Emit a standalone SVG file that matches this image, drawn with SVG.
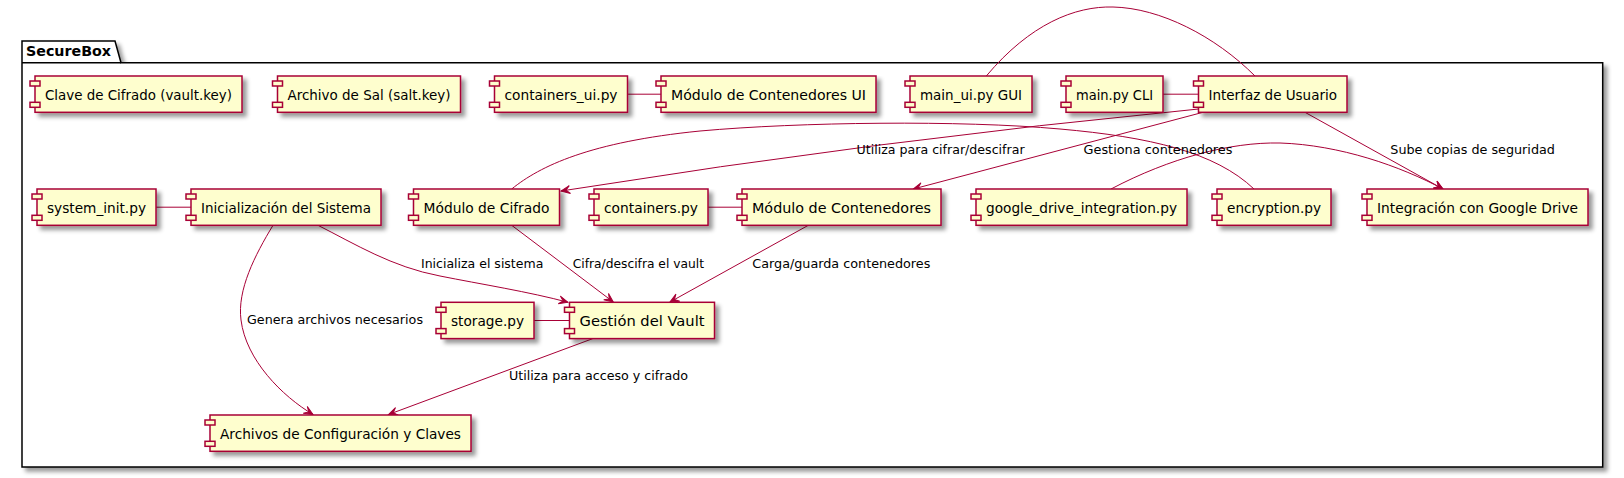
<svg xmlns="http://www.w3.org/2000/svg" width="1624" height="478" viewBox="0 0 1624 478">
<style>
.b{fill:#FEFECE;stroke:#A80036;stroke-width:1.5}
.t{font-family:"DejaVu Sans",sans-serif;font-size:14px;fill:#000000}
.l{font-family:"DejaVu Sans",sans-serif;font-size:13px;fill:#000000}
.e{fill:none;stroke:#A80036;stroke-width:1}
.a{fill:none;stroke:#A80036;stroke-width:1;marker-end:url(#arr)}
.pk{fill:#FFFFFF;stroke:#000000;stroke-width:1.5}
</style>
<defs>
<filter id="sh" x="-10%" y="-10%" width="130%" height="140%">
<feGaussianBlur in="SourceAlpha" stdDeviation="2"/>
<feColorMatrix type="matrix" values="0 0 0 0 0 0 0 0 0 0 0 0 0 0 0 0 0 0 .4 0"/>
<feOffset dx="4" dy="4" result="s"/>
<feBlend in="SourceGraphic" in2="s" mode="normal"/>
</filter>
<filter id="shp" x="-2%" y="-2%" width="104%" height="106%">
<feGaussianBlur in="SourceAlpha" stdDeviation="2"/>
<feColorMatrix type="matrix" values="0 0 0 0 0 0 0 0 0 0 0 0 0 0 0 0 0 0 .4 0"/>
<feOffset dx="4" dy="4" result="s"/>
<feBlend in="SourceGraphic" in2="s" mode="normal"/>
</filter>
<marker id="arr" viewBox="-10 -5 11 10" refX="0" refY="0" markerWidth="11" markerHeight="10" markerUnits="userSpaceOnUse" orient="auto">
<path d="M0,0 L-9,-4 L-5,0 L-9,4 Z" fill="#A80036" stroke="#A80036" stroke-width="1"/>
</marker>
</defs>
<rect width="1624" height="478" fill="#FFFFFF"/>

<g id="package">
<path class="pk" filter="url(#shp)" d="M22,41 L115,41 L121,62.7 L1602.7,62.7 L1602.7,467 L22,467 Z"/>
<line x1="22" y1="62.7" x2="121" y2="62.7" stroke="#000000" stroke-width="1.5"/>
<text x="26" y="55.5" font-family="DejaVu Sans, sans-serif" font-size="14" font-weight="bold" textLength="85" lengthAdjust="spacingAndGlyphs">SecureBox</text>
</g>

<g id="edges">
<line class="e" x1="627.5" y1="94.2" x2="661" y2="94.2"/>
<line class="e" x1="1163" y1="94.2" x2="1198.5" y2="94.2"/>
<line class="e" x1="156" y1="207.2" x2="191" y2="207.2"/>
<line class="e" x1="708" y1="207.2" x2="742" y2="207.2"/>
<line class="e" x1="534" y1="320.5" x2="569.5" y2="320.5"/>
<path class="e" d="M986.3,76 C1030,24 1075,6 1113,7 C1160,8 1215,36 1255,76"/>
<path class="e" d="M511.7,189 C540,166 590,142 700,131 C800,122 960,120 1060,129 C1150,137 1215,152 1254,189"/>
<path class="a" d="M1198.5,109 Q880,140 561,191"/>
<path class="a" d="M1203,112.3 L913.3,189"/>
<path class="a" d="M1305,112.3 L1443,189"/>
<path class="a" d="M1111,189 C1170,158 1230,142 1280,143 C1340,145 1400,166 1443,189"/>
<path class="a" d="M511.7,225.3 L613.3,302"/>
<path class="a" d="M808.3,225.3 L670,302"/>
<path class="a" d="M318,225.3 C355,244 392,267 440,276 C480,284 530,292 568,302.3"/>
<path class="a" d="M273,225.3 C255,255 237,290 241,320 C246,360 282,396 313,414.5"/>
<path class="a" d="M592.8,338.6 L388.5,414.5"/>
<text class="l" x="856.6" y="154.3" textLength="168" lengthAdjust="spacingAndGlyphs">Utiliza para cifrar/descifrar</text>
<text class="l" x="1083.5" y="154.3" textLength="149" lengthAdjust="spacingAndGlyphs">Gestiona contenedores</text>
<text class="l" x="1390.3" y="154.3" textLength="164.6" lengthAdjust="spacingAndGlyphs">Sube copias de seguridad</text>
<text class="l" x="421" y="267.7" textLength="122.3" lengthAdjust="spacingAndGlyphs">Inicializa el sistema</text>
<text class="l" x="572.7" y="267.7" textLength="131.3" lengthAdjust="spacingAndGlyphs">Cifra/descifra el vault</text>
<text class="l" x="752.3" y="267.7" textLength="178" lengthAdjust="spacingAndGlyphs">Carga/guarda contenedores</text>
<text class="l" x="247" y="324.3" textLength="176" lengthAdjust="spacingAndGlyphs">Genera archivos necesarios</text>
<text class="l" x="509" y="380" textLength="179" lengthAdjust="spacingAndGlyphs">Utiliza para acceso y cifrado</text>
</g>

<g id="n-clave"><rect class="b" filter="url(#sh)" x="35" y="76" width="207" height="36.3"/><rect class="b" x="30" y="81" width="10" height="5"/><rect class="b" x="30" y="102.3" width="10" height="5"/><text class="t" x="45" y="100" textLength="187" lengthAdjust="spacingAndGlyphs">Clave de Cifrado (vault.key)</text></g>
<g id="n-sal"><rect class="b" filter="url(#sh)" x="277.5" y="76" width="183" height="36.3"/><rect class="b" x="272.5" y="81" width="10" height="5"/><rect class="b" x="272.5" y="102.3" width="10" height="5"/><text class="t" x="287.5" y="100" textLength="163" lengthAdjust="spacingAndGlyphs">Archivo de Sal (salt.key)</text></g>
<g id="n-containers-ui"><rect class="b" filter="url(#sh)" x="494.5" y="76" width="133" height="36.3"/><rect class="b" x="489.5" y="81" width="10" height="5"/><rect class="b" x="489.5" y="102.3" width="10" height="5"/><text class="t" x="504.5" y="100" textLength="113" lengthAdjust="spacingAndGlyphs">containers_ui.py</text></g>
<g id="n-modulo-ui"><rect class="b" filter="url(#sh)" x="661" y="76" width="215" height="36.3"/><rect class="b" x="656" y="81" width="10" height="5"/><rect class="b" x="656" y="102.3" width="10" height="5"/><text class="t" x="671" y="100" textLength="195" lengthAdjust="spacingAndGlyphs">Módulo de Contenedores UI</text></g>
<g id="n-main-ui"><rect class="b" filter="url(#sh)" x="910" y="76" width="122" height="36.3"/><rect class="b" x="905" y="81" width="10" height="5"/><rect class="b" x="905" y="102.3" width="10" height="5"/><text class="t" x="920" y="100" textLength="102" lengthAdjust="spacingAndGlyphs">main_ui.py GUI</text></g>
<g id="n-main-cli"><rect class="b" filter="url(#sh)" x="1066" y="76" width="97" height="36.3"/><rect class="b" x="1061" y="81" width="10" height="5"/><rect class="b" x="1061" y="102.3" width="10" height="5"/><text class="t" x="1076" y="100" textLength="77" lengthAdjust="spacingAndGlyphs">main.py CLI</text></g>
<g id="n-interfaz"><rect class="b" filter="url(#sh)" x="1198.5" y="76" width="148.5" height="36.3"/><rect class="b" x="1193.5" y="81" width="10" height="5"/><rect class="b" x="1193.5" y="102.3" width="10" height="5"/><text class="t" x="1208.5" y="100" textLength="128.5" lengthAdjust="spacingAndGlyphs">Interfaz de Usuario</text></g>

<g id="n-system-init"><rect class="b" filter="url(#sh)" x="37" y="189" width="119" height="36.3"/><rect class="b" x="32" y="194" width="10" height="5"/><rect class="b" x="32" y="215.3" width="10" height="5"/><text class="t" x="47" y="213" textLength="99" lengthAdjust="spacingAndGlyphs">system_init.py</text></g>
<g id="n-inicializacion"><rect class="b" filter="url(#sh)" x="191" y="189" width="190" height="36.3"/><rect class="b" x="186" y="194" width="10" height="5"/><rect class="b" x="186" y="215.3" width="10" height="5"/><text class="t" x="201" y="213" textLength="170" lengthAdjust="spacingAndGlyphs">Inicialización del Sistema</text></g>
<g id="n-cifrado"><rect class="b" filter="url(#sh)" x="413.5" y="189" width="146" height="36.3"/><rect class="b" x="408.5" y="194" width="10" height="5"/><rect class="b" x="408.5" y="215.3" width="10" height="5"/><text class="t" x="423.5" y="213" textLength="126" lengthAdjust="spacingAndGlyphs">Módulo de Cifrado</text></g>
<g id="n-containers"><rect class="b" filter="url(#sh)" x="594" y="189" width="114" height="36.3"/><rect class="b" x="589" y="194" width="10" height="5"/><rect class="b" x="589" y="215.3" width="10" height="5"/><text class="t" x="604" y="213" textLength="94" lengthAdjust="spacingAndGlyphs">containers.py</text></g>
<g id="n-contenedores"><rect class="b" filter="url(#sh)" x="742" y="189" width="199" height="36.3"/><rect class="b" x="737" y="194" width="10" height="5"/><rect class="b" x="737" y="215.3" width="10" height="5"/><text class="t" x="752" y="213" textLength="179" lengthAdjust="spacingAndGlyphs">Módulo de Contenedores</text></g>
<g id="n-gdrive-py"><rect class="b" filter="url(#sh)" x="976" y="189" width="211" height="36.3"/><rect class="b" x="971" y="194" width="10" height="5"/><rect class="b" x="971" y="215.3" width="10" height="5"/><text class="t" x="986" y="213" textLength="191" lengthAdjust="spacingAndGlyphs">google_drive_integration.py</text></g>
<g id="n-encryption"><rect class="b" filter="url(#sh)" x="1217" y="189" width="114" height="36.3"/><rect class="b" x="1212" y="194" width="10" height="5"/><rect class="b" x="1212" y="215.3" width="10" height="5"/><text class="t" x="1227" y="213" textLength="94" lengthAdjust="spacingAndGlyphs">encryption.py</text></g>
<g id="n-gdrive"><rect class="b" filter="url(#sh)" x="1367" y="189" width="221" height="36.3"/><rect class="b" x="1362" y="194" width="10" height="5"/><rect class="b" x="1362" y="215.3" width="10" height="5"/><text class="t" x="1377" y="213" textLength="201" lengthAdjust="spacingAndGlyphs">Integración con Google Drive</text></g>

<g id="n-storage"><rect class="b" filter="url(#sh)" x="441" y="302.3" width="93" height="36.3"/><rect class="b" x="436" y="307.3" width="10" height="5"/><rect class="b" x="436" y="328.6" width="10" height="5"/><text class="t" x="451" y="326.3" textLength="73" lengthAdjust="spacingAndGlyphs">storage.py</text></g>
<g id="n-vault"><rect class="b" filter="url(#sh)" x="569.5" y="302.3" width="145" height="36.3"/><rect class="b" x="564.5" y="307.3" width="10" height="5"/><rect class="b" x="564.5" y="328.6" width="10" height="5"/><text class="t" x="579.5" y="326.3" textLength="125" lengthAdjust="spacingAndGlyphs">Gestión del Vault</text></g>

<g id="n-archivos"><rect class="b" filter="url(#sh)" x="210" y="415" width="261" height="36.3"/><rect class="b" x="205" y="420" width="10" height="5"/><rect class="b" x="205" y="441.3" width="10" height="5"/><text class="t" x="220" y="439" textLength="241" lengthAdjust="spacingAndGlyphs">Archivos de Configuración y Claves</text></g>
</svg>
